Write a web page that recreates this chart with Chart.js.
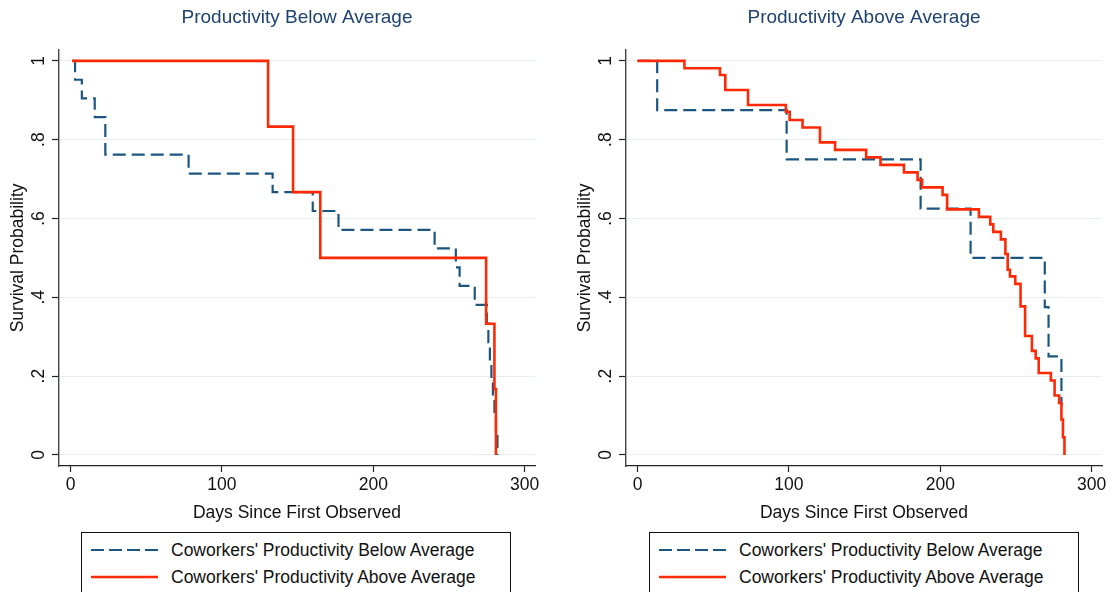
<!DOCTYPE html>
<html>
<head>
<meta charset="utf-8">
<script src="https://cdn.jsdelivr.net/npm/chart.js@4.4.1/dist/chart.umd.min.js"></script>
<style>
  html, body { margin: 0; padding: 0; background: #fff; overflow: hidden; }
  body { width: 1120px; height: 592px; position: relative; font-family: "Liberation Sans", Arial, Helvetica, sans-serif; }
  canvas { position: absolute; top: 0; }
  .legend { position: absolute; top: 532px; width: 430px; height: 100px; border: 1px solid #111; box-sizing: border-box; background: #fff; }
  .legend svg { position: absolute; left: 0; top: 0; }
  .legend span { position: absolute; left: 89px; height: 22px; line-height: 22px; font-size: 17.5px; color: #111; white-space: nowrap; }
</style>
</head>
<body>
<canvas id="left" width="553" height="532" style="left:0"></canvas>
<canvas id="right" width="553" height="532" style="left:567px"></canvas>
<div class="legend" id="legLeft" style="left:81px"></div>
<div class="legend" id="legRight" style="left:649px"></div>
<script>
const xTicks = [0, 100, 200, 300];
const yTicks = [0, 0.2, 0.4, 0.6, 0.8, 1];
const yTickLabels = ['0', '.2', '.4', '.6', '.8', '1'];
const panelTitles = ['Productivity Below Average', 'Productivity Above Average'];
const seriesNames = ["Coworkers' Productivity Below Average", "Coworkers' Productivity Above Average"];

// own productivity below average
const loBelowDays = [2, 3, 7.5, 16, 23, 78, 133.5, 160, 177, 240.5, 254.5, 257, 267, 275, 276, 277, 278, 279, 280, 281, 282];
const loBelowSurv = [1, .952, .905, .857, .762, .714, .667, .619, .571, .524, .476, .429, .381, .333, .286, .238, .190, .143, .095, .048, 0];
const loAboveDays = [1, 130.5, 147, 165, 274.5, 280, 281];
const loAboveSurv = [1, .833, .667, .5, .333, .167, 0];

// own productivity above average
const hiBelowDays = [0, 13, 98.5, 187, 220, 269, 271.5, 280];
const hiBelowSurv = [1, .875, .75, .625, .5, .375, .25, .125];
const hiAboveDays = [0, 31, 54.5, 58, 73, 98, 100.5, 109, 120.5, 130.5, 151, 160.5, 176, 185, 188, 201.5, 204.5, 225.5, 233, 235,
  240, 243, 244.5, 246, 249.5, 253, 256, 260.5, 263, 265, 273, 275.5, 278.5, 280, 281, 282];
const hiAboveSurv = [1, .981, .964, .926, .888, .871, .850, .831, .793, .774, .755, .736, .717, .698, .679, .660, .623, .604, .585, .566,
  .547, .51, .47, .453, .434, .377, .302, .264, .245, .208, .189, .151, .132, .09, .045, 0];

const FAMILY = '"Liberation Sans", Arial, Helvetica, sans-serif';
const axisFont = { family: FAMILY, size: 17.5 };
const BLUE = '#1a5680';
const RED = '#fd2a05';
const lineStyles = [
  { color: BLUE, width: 2.2, dash: [13, 6] },
  { color: RED, width: 2.6, dash: [] }
];

const toPoints = (days, surv) => days.map((d, i) => ({ x: d, y: surv[i] }));

function makePanel(id, title, below, above) {
  return new Chart(document.getElementById(id), {
    type: 'line',
    data: {
      datasets: [
        { label: seriesNames[0], data: below, borderColor: lineStyles[0].color, borderWidth: lineStyles[0].width,
          borderDash: lineStyles[0].dash, borderCapStyle: 'butt', order: 1 },
        { label: seriesNames[1], data: above, borderColor: lineStyles[1].color, borderWidth: lineStyles[1].width,
          borderDash: lineStyles[1].dash, order: 0 }
      ]
    },
    options: {
      responsive: false,
      animation: false,
      devicePixelRatio: 1,
      layout: { padding: { left: 0, right: 18, top: 0, bottom: 0 } },
      elements: { point: { radius: 0 }, line: { stepped: true, tension: 0, fill: false } },
      plugins: {
        legend: { display: false },
        tooltip: { enabled: false },
        title: {
          display: true, text: title, color: '#1e4270', fullSize: false,
          font: { family: FAMILY, size: 19, weight: 'normal' },
          padding: { top: 6, bottom: 21 }
        }
      },
      scales: {
        x: {
          type: 'linear', min: -7.6, max: 306.8,
          afterBuildTicks: s => { s.ticks = xTicks.map(v => ({ value: v })); },
          afterFit: s => { s.height = 66; },
          grid: { drawOnChartArea: false, drawTicks: true, tickLength: 6, tickColor: '#222', tickWidth: 1.2 },
          border: { display: true, color: '#222', width: 1.2 },
          ticks: { color: '#111', font: axisFont, padding: 3, maxRotation: 0, autoSkip: false },
          title: { display: true, text: 'Days Since First Observed', color: '#111', font: axisFont, padding: { top: 0, bottom: 8 } }
        },
        y: {
          type: 'linear', min: -0.028, max: 1.028,
          afterBuildTicks: s => { s.ticks = yTicks.map(v => ({ value: v })); },
          afterFit: s => { s.width = 59; },
          grid: { color: '#e8eff1', lineWidth: 1, drawTicks: true, tickLength: 7, tickColor: '#222', tickWidth: 1.2 },
          border: { display: true, color: '#444', width: 1.4 },
          ticks: {
            color: '#111', font: axisFont, padding: 6, minRotation: 90, maxRotation: 90,
            crossAlign: 'center', autoSkip: false,
            callback: v => yTickLabels[yTicks.indexOf(v)]
          },
          title: { display: true, text: 'Survival Probability', color: '#111', font: axisFont, padding: { top: 7.5, bottom: 0 } }
        }
      }
    }
  });
}

makePanel('left', panelTitles[0], toPoints(loBelowDays, loBelowSurv), toPoints(loAboveDays, loAboveSurv));
makePanel('right', panelTitles[1], toPoints(hiBelowDays, hiBelowSurv), toPoints(hiAboveDays, hiAboveSurv));

// boxed legend under each panel
function buildLegend(id) {
  const box = document.getElementById(id);
  const rowsY = [17, 44];
  let svg = '<svg width="80" height="70">';
  lineStyles.forEach((st, i) => {
    svg += `<line x1="9" y1="${rowsY[i]}" x2="76" y2="${rowsY[i]}" stroke="${st.color}" stroke-width="${st.width}"` +
      (st.dash.length ? ` stroke-dasharray="13 5"` : '') + '/>';
  });
  svg += '</svg>';
  box.innerHTML = svg + seriesNames.map((n, i) => `<span style="top:${rowsY[i] - 11}px">${n}</span>`).join('');
}
buildLegend('legLeft');
buildLegend('legRight');
</script>
</body>
</html>
